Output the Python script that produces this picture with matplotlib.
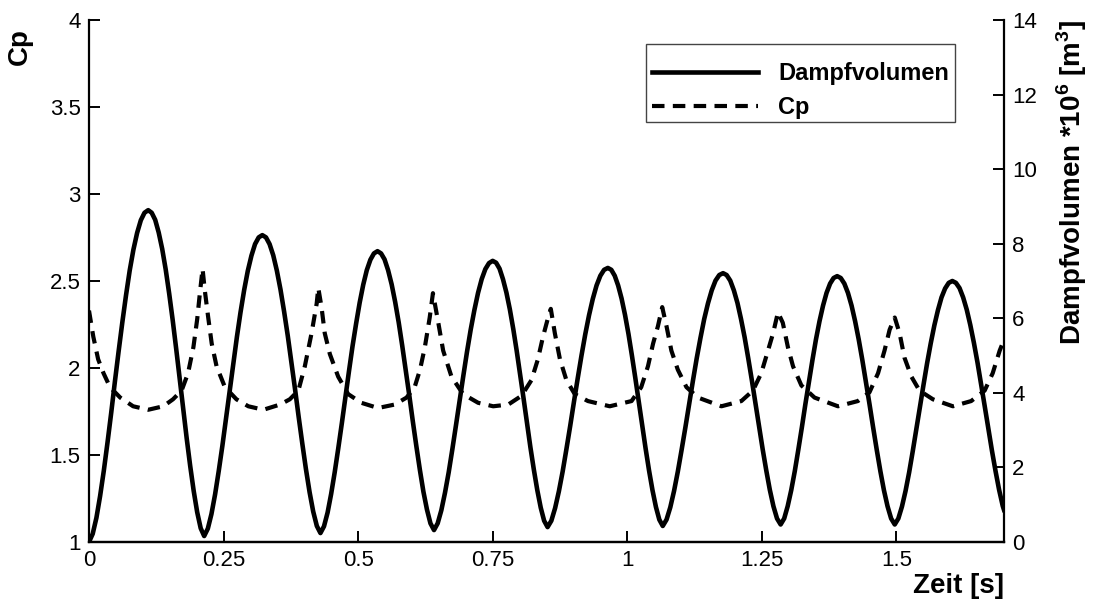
import matplotlib
matplotlib.use('Agg')
import matplotlib.pyplot as plt
from matplotlib.patches import Rectangle

# Dampfvolumen (right axis)
zeit_vol = [0.000, 0.0069, 0.0138, 0.0206, 0.0275, 0.0344, 0.0413, 0.0481, 0.055, 0.0619, 0.0688, 0.0756, 0.0825, 0.0894, 0.0963, 0.1031,
            0.110, 0.1165, 0.123, 0.1295, 0.136, 0.1425, 0.149, 0.1555, 0.162, 0.1685, 0.175, 0.1815, 0.188, 0.1945, 0.201, 0.2075,
            0.214, 0.2208, 0.2275, 0.2343, 0.241, 0.2478, 0.2545, 0.2613, 0.268, 0.2748, 0.2815, 0.2883, 0.295, 0.3018, 0.3085, 0.3153,
            0.322, 0.3288, 0.3355, 0.3423, 0.349, 0.3558, 0.3625, 0.3693, 0.376, 0.3828, 0.3895, 0.3963, 0.403, 0.4098, 0.4165, 0.4233,
            0.430, 0.4366, 0.4433, 0.4499, 0.4565, 0.4631, 0.4698, 0.4764, 0.483, 0.4896, 0.4963, 0.5029, 0.5095, 0.5161, 0.5228, 0.5294,
            0.536, 0.5426, 0.5491, 0.5557, 0.5623, 0.5688, 0.5754, 0.5819, 0.5885, 0.5951, 0.6016, 0.6082, 0.6148, 0.6213, 0.6279, 0.6344,
            0.641, 0.6478, 0.6546, 0.6614, 0.6683, 0.6751, 0.6819, 0.6887, 0.6955, 0.7023, 0.7091, 0.716, 0.7228, 0.7296, 0.7364, 0.7432,
            0.750, 0.7564, 0.7628, 0.7691, 0.7755, 0.7819, 0.7883, 0.7946, 0.801, 0.8074, 0.8138, 0.8201, 0.8265, 0.8329, 0.8393, 0.8456,
            0.852, 0.859, 0.866, 0.873, 0.880, 0.887, 0.894, 0.901, 0.908, 0.915, 0.922, 0.929, 0.936, 0.943, 0.950, 0.957,
            0.964, 0.9704, 0.9768, 0.9831, 0.9895, 0.9959, 1.0023, 1.0086, 1.015, 1.0214, 1.0278, 1.0341, 1.0405, 1.0469, 1.0533, 1.0596,
            1.066, 1.073, 1.080, 1.087, 1.094, 1.101, 1.108, 1.115, 1.122, 1.129, 1.136, 1.143, 1.150, 1.157, 1.164, 1.171,
            1.178, 1.1847, 1.1914, 1.1981, 1.2048, 1.2114, 1.2181, 1.2248, 1.2315, 1.2382, 1.2449, 1.2516, 1.2583, 1.2649, 1.2716, 1.2783,
            1.285, 1.2916, 1.2981, 1.3047, 1.3113, 1.3178, 1.3244, 1.3309, 1.3375, 1.3441, 1.3506, 1.3572, 1.3638, 1.3703, 1.3769, 1.3834,
            1.390, 1.3967, 1.4034, 1.4101, 1.4168, 1.4234, 1.4301, 1.4368, 1.4435, 1.4502, 1.4569, 1.4636, 1.4703, 1.4769, 1.4836, 1.4903,
            1.497, 1.5037, 1.5104, 1.5171, 1.5238, 1.5304, 1.5371, 1.5438, 1.5505, 1.5572, 1.5639, 1.5706, 1.5773, 1.5839, 1.5906, 1.5973,
            1.604, 1.6107, 1.6174, 1.6241, 1.6308, 1.6374, 1.6441, 1.6508, 1.6575, 1.6642, 1.6709, 1.6776, 1.6843, 1.6909, 1.6976, 1.700]
vol = [0.00, 0.22, 0.65, 1.23, 1.91, 2.67, 3.47, 4.30, 5.11, 5.89, 6.62, 7.28, 7.84, 8.29, 8.63, 8.83,
       8.90, 8.83, 8.64, 8.30, 7.86, 7.31, 6.66, 5.95, 5.18, 4.38, 3.57, 2.78, 2.04, 1.37, 0.80, 0.37,
       0.16, 0.36, 0.75, 1.28, 1.90, 2.58, 3.31, 4.06, 4.79, 5.50, 6.16, 6.76, 7.27, 7.68, 7.99, 8.17,
       8.23, 8.17, 7.99, 7.69, 7.28, 6.77, 6.18, 5.53, 4.83, 4.10, 3.36, 2.64, 1.96, 1.34, 0.82, 0.43,
       0.24, 0.42, 0.79, 1.29, 1.87, 2.51, 3.19, 3.89, 4.58, 5.25, 5.86, 6.42, 6.90, 7.29, 7.57, 7.74,
       7.80, 7.74, 7.58, 7.29, 6.91, 6.44, 5.89, 5.27, 4.61, 3.93, 3.24, 2.57, 1.93, 1.35, 0.87, 0.50,
       0.32, 0.50, 0.85, 1.32, 1.87, 2.49, 3.14, 3.81, 4.46, 5.10, 5.69, 6.22, 6.68, 7.05, 7.32, 7.48,
       7.54, 7.49, 7.33, 7.05, 6.69, 6.24, 5.71, 5.13, 4.50, 3.85, 3.18, 2.54, 1.94, 1.39, 0.92, 0.57,
       0.40, 0.57, 0.91, 1.36, 1.89, 2.49, 3.11, 3.76, 4.39, 5.00, 5.57, 6.08, 6.52, 6.88, 7.14, 7.30,
       7.35, 7.30, 7.14, 6.88, 6.53, 6.09, 5.58, 5.01, 4.40, 3.77, 3.13, 2.51, 1.92, 1.39, 0.94, 0.60,
       0.43, 0.60, 0.93, 1.37, 1.89, 2.47, 3.07, 3.70, 4.32, 4.92, 5.47, 5.98, 6.40, 6.75, 7.01, 7.16,
       7.21, 7.16, 7.01, 6.75, 6.41, 5.98, 5.49, 4.93, 4.34, 3.72, 3.10, 2.49, 1.92, 1.40, 0.96, 0.63,
       0.47, 0.63, 0.96, 1.39, 1.90, 2.47, 3.07, 3.69, 4.29, 4.88, 5.43, 5.92, 6.34, 6.68, 6.93, 7.08,
       7.13, 7.08, 6.93, 6.68, 6.34, 5.92, 5.43, 4.88, 4.29, 3.69, 3.07, 2.47, 1.90, 1.39, 0.96, 0.63,
       0.47, 0.63, 0.95, 1.37, 1.87, 2.43, 3.02, 3.62, 4.22, 4.80, 5.33, 5.81, 6.22, 6.56, 6.80, 6.95,
       7.00, 6.95, 6.81, 6.56, 6.23, 5.82, 5.34, 4.81, 4.23, 3.64, 3.04, 2.45, 1.90, 1.40, 0.97, 0.86]

# Cp (left axis)
zeit_cp = [0.000, 0.008, 0.017, 0.027, 0.039, 0.058, 0.082, 0.110, 0.138, 0.156, 0.172, 0.184, 0.194, 0.201, 0.206, 0.211,
           0.215, 0.2215, 0.228, 0.237, 0.2525, 0.274, 0.296, 0.324, 0.355, 0.373, 0.389, 0.401, 0.4135, 0.423, 0.426,
           0.432, 0.438, 0.4475, 0.463, 0.4815, 0.506, 0.537, 0.568, 0.590, 0.605, 0.615, 0.624, 0.633, 0.639,
           0.649, 0.658, 0.6735, 0.695, 0.723, 0.751, 0.779, 0.8035, 0.822, 0.834, 0.8435, 0.853, 0.858,
           0.8655, 0.875, 0.887, 0.9025, 0.927, 0.9675, 1.008, 1.026, 1.0385, 1.048, 1.057, 1.065,
           1.073, 1.082, 1.094, 1.110, 1.1315, 1.175, 1.212, 1.2335, 1.249, 1.2615, 1.271, 1.280,
           1.289, 1.2985, 1.308, 1.3235, 1.348, 1.3915, 1.4285, 1.450, 1.466, 1.478, 1.4875, 1.497,
           1.506, 1.515, 1.528, 1.543, 1.568, 1.605, 1.639, 1.664, 1.679, 1.692, 1.701]
cp = [2.33, 2.18, 2.05, 1.97, 1.89, 1.83, 1.78, 1.76, 1.78, 1.82, 1.87, 1.97, 2.12, 2.28, 2.43, 2.57,
      2.45, 2.29, 2.14, 2.01, 1.89, 1.82, 1.78, 1.76, 1.79, 1.82, 1.87, 2.01, 2.20, 2.37, 2.46,
      2.35, 2.20, 2.08, 1.95, 1.85, 1.80, 1.77, 1.79, 1.83, 1.89, 1.99, 2.12, 2.29, 2.43,
      2.26, 2.10, 1.95, 1.85, 1.80, 1.78, 1.79, 1.84, 1.93, 2.05, 2.18, 2.29, 2.34,
      2.20, 2.05, 1.93, 1.85, 1.81, 1.78, 1.81, 1.89, 2.01, 2.14, 2.24, 2.35,
      2.24, 2.10, 1.99, 1.89, 1.83, 1.78, 1.81, 1.87, 1.97, 2.10, 2.20, 2.32,
      2.26, 2.12, 2.01, 1.90, 1.83, 1.78, 1.81, 1.86, 1.97, 2.10, 2.22, 2.29,
      2.20, 2.06, 1.95, 1.87, 1.82, 1.78, 1.81, 1.87, 1.97, 2.10, 2.17]

x_ticks = [0, 0.25, 0.5, 0.75, 1, 1.25, 1.5]
x_ticklabels = ['0', '0.25', '0.5', '0.75', '1', '1.25', '1.5']
cp_ticks = [1, 1.5, 2, 2.5, 3, 3.5, 4]
cp_ticklabels = ['1', '1.5', '2', '2.5', '3', '3.5', '4']
vol_ticks = [0, 2, 4, 6, 8, 10, 12, 14]

plt.rcParams.update({'font.family': 'Liberation Sans', 'font.size': 16,
                     'mathtext.fontset': 'custom',
                     'mathtext.rm': 'Liberation Sans',
                     'mathtext.bf': 'Liberation Sans:bold'})

fig = plt.figure(figsize=(10.93, 5.99), dpi=100)
ax = fig.add_axes([89/1093, 57/599, 915/1093, 522/599])
ax2 = ax.twinx()

l1, = ax2.plot(zeit_vol, vol, color='black', lw=3.3, solid_joinstyle='round',
               label='Dampfvolumen')
l2, = ax.plot(zeit_cp, cp, color='black', lw=3.0, dashes=(3, 2),
              dash_capstyle='butt', label='Cp')

ax.set_xlim(0, 1.7)
ax.set_ylim(1, 4)
ax2.set_ylim(0, 14)
ax.set_xticks(x_ticks)
ax.set_xticklabels(x_ticklabels)
ax.set_yticks(cp_ticks)
ax.set_yticklabels(cp_ticklabels)
ax2.set_yticks(vol_ticks)

for a in (ax, ax2):
    a.spines['top'].set_visible(False)
    for s in a.spines.values():
        s.set_linewidth(1.6)
    a.tick_params(direction='in', length=8, width=1.4, labelsize=16, pad=6)
ax2.spines['left'].set_visible(False)
ax.spines['right'].set_visible(False)

ax.set_xlabel('Zeit [s]', fontsize=20, fontweight='bold', loc='right', labelpad=1)
ax.set_ylabel('Cp', fontsize=20, fontweight='bold', loc='top')
ax.yaxis.set_label_coords(-0.061, 0.985)
ax2.set_ylabel(r'Dampfvolumen *10$^{\mathbf{6}}$ [m$^{\mathbf{3}}$]', fontsize=20,
               fontweight='bold', loc='top')
ax2.yaxis.set_label_coords(1.055, 1.0)

# legend box
fig.patches.append(Rectangle((646/1093, 1 - 122/599), 309/1093, 78/599,
                             transform=fig.transFigure, fill=False,
                             edgecolor='#444444', lw=1.0))
fig.legend(handles=[l1, l2], loc='center left', frameon=False,
           bbox_to_anchor=(640/1093, 1 - 90.5/599), borderpad=0,
           handlelength=4.5, handletextpad=0.85, labelspacing=0.45,
           prop={'weight': 'bold', 'size': 17})

fig.savefig('out.png', dpi=100)
